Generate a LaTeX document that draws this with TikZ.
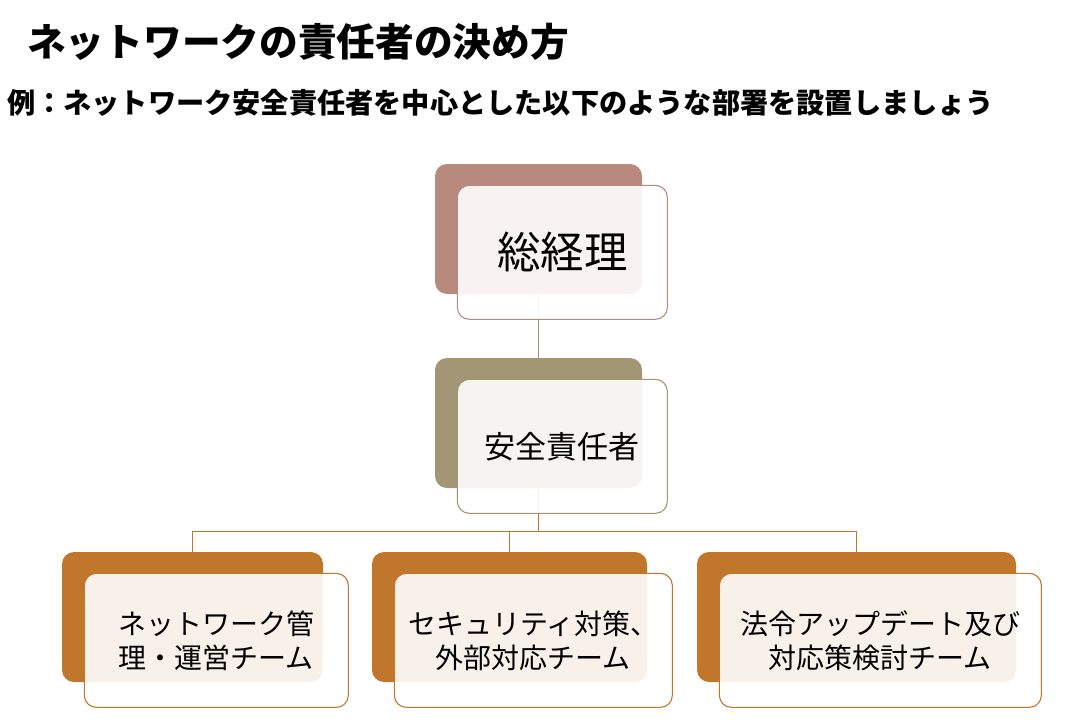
\documentclass[tikz,border=0pt]{standalone}
\usepackage{fontspec}
\newfontfamily\jpfont{Noto Sans CJK JP}
\usetikzlibrary{positioning}
\definecolor{rosebk}{HTML}{B88A7E}
\definecolor{olivebk}{HTML}{A39674}
\definecolor{orangebk}{HTML}{C0772C}
\definecolor{linebr}{HTML}{A8906C}

\begin{document}
\begin{tikzpicture}[x=1pt,y=-1pt,
	backbox/.style={fill=#1,rounded corners=12pt,minimum height=130pt,inner sep=0pt},
	frontbox/.style={draw=#1,line width=1.1pt,fill=white,fill opacity=0.9,text opacity=1,rounded corners=12pt,align=center,minimum height=134pt,anchor=north west},
	conn/.style={line width=1pt,draw=#1},
	teamfont/.style={font=\jpfont\fontsize{28}{34}\selectfont}]
	
	\useasboundingbox (0,0) rectangle (1073,725);
	
	\node[anchor=west,inner sep=0pt,font=\jpfont\bfseries\fontsize{38.7}{44}\selectfont] (title) at (27,42) {ネットワークの責任者の決め方};
	\node[anchor=west,inner sep=0pt,font=\jpfont\bfseries\fontsize{28.2}{34}\selectfont] (sub) at (7,103) {例：ネットワーク安全責任者を中心とした以下のような部署を設置しましょう};
	
	\node[backbox=rosebk,minimum width=207pt] (a0) at (538.5,229) {};
	\node[backbox=olivebk,minimum width=207pt] (b0) at (538.5,423) {};
	\node[backbox=orangebk,minimum width=261pt] (c0) at (192.5,617) {};
	\node[backbox=orangebk,minimum width=275pt] (d0) at (509.5,617) {};
	\node[backbox=orangebk,minimum width=319pt] (e0) at (856.5,617) {};
	
	\coordinate (hub) at ([yshift=-43pt]b0.south);
	\draw[conn=linebr] (a0.south) -- (b0.north);
	\draw[conn=orangebk] (b0.south) -- (hub);
	\draw[conn=orangebk] (hub) -| (c0.north);
	\draw[conn=orangebk] (hub) -| (d0.north);
	\draw[conn=orangebk] (hub) -| (e0.north);
	
	\node[frontbox=rosebk,minimum width=210pt,font=\jpfont\fontsize{43.5}{50}\selectfont] (a1) at ([shift={(22pt,-21pt)}]a0.north west) {総経理};
	\node[frontbox=olivebk,minimum width=210pt,font=\jpfont\fontsize{31}{38}\selectfont] (b1) at ([shift={(22pt,-21pt)}]b0.north west) {安全責任者};
	\node[frontbox=orangebk,minimum width=264pt,teamfont] (c1) at ([shift={(22pt,-21pt)}]c0.north west) {ネットワーク管\\理・運営チーム};
	\node[frontbox=orangebk,minimum width=278pt,teamfont] (d1) at ([shift={(22pt,-21pt)}]d0.north west) {セキュリティ対策、\\外部対応チーム};
	\node[frontbox=orangebk,minimum width=322pt,teamfont] (e1) at ([shift={(22pt,-21pt)}]e0.north west) {法令アップデート及び\\対応策検討チーム};
	
\end{tikzpicture}
\end{document}
